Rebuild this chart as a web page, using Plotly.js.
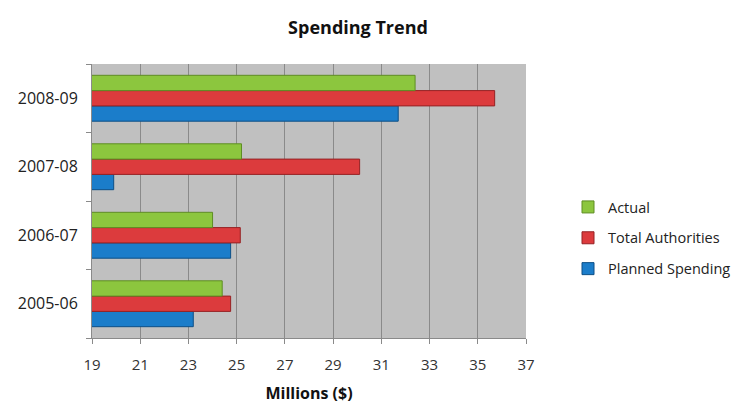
<!DOCTYPE html>
<html>
<head>
<meta charset="utf-8">
<script src="https://cdn.plot.ly/plotly-3.0.1.min.js"></script>
<style>html,body{margin:0;padding:0;background:#fff;}#chart{width:747px;height:412px;}</style>
</head>
<body>
<div id="chart"></div>
<script>
const categories = ["2005-06", "2006-07", "2007-08", "2008-09"];
const planned = [23.2, 24.75, 19.9, 31.7];
const totalAuthorities = [24.75, 25.15, 30.1, 35.7];
const actual = [24.4, 24.0, 25.2, 32.4];
const xTicks = [19, 21, 23, 25, 27, 29, 31, 33, 35, 37];

const font = "Open Sans, Noto Sans, sans-serif";

const traces = [
  {name: "Planned Spending", legendgroup: "p", legendrank: 3, y: categories, x: planned, type: "bar", orientation: "h",
   marker: {color: "#1b7dca", line: {color: "#0d4f86", width: 1}}},
  {name: "Total Authorities", legendgroup: "t", legendrank: 2, y: categories, x: totalAuthorities, type: "bar", orientation: "h",
   marker: {color: "#dc3b3d", line: {color: "#952224", width: 1}}},
  {name: "Actual", legendgroup: "a", legendrank: 1, y: categories, x: actual, type: "bar", orientation: "h",
   marker: {color: "#8cc63e", line: {color: "#5e8d23", width: 1}}}
];

const layout = {
  width: 747, height: 412,
  margin: {l: 92, r: 221, t: 64, b: 74, autoexpand: false},
  paper_bgcolor: "#ffffff",
  plot_bgcolor: "#c0c0c0",
  barmode: "group",
  bargap: 0.33,
  bargroupgap: 0,
  font: {family: font, color: "#333333", size: 15},
  title: {text: "<b>Spending Trend</b>", x: 358 / 747, xanchor: "center", y: 1 - 28 / 412, yanchor: "middle",
          font: {family: font, size: 18, color: "#111111"}},
  xaxis: {
    range: [19, 37], tickvals: xTicks, ticktext: xTicks.map(String),
    showgrid: true, gridcolor: "#8a8a8a", gridwidth: 1,
    showline: true, linecolor: "#8a8a8a", linewidth: 1,
    ticks: "outside", ticklen: 5, tickcolor: "#8a8a8a",
    ticklabelstandoff: 8,
    tickfont: {size: 15, color: "#333333"},
    zeroline: false, fixedrange: true,
    title: {text: "<b>Millions ($)</b>", font: {size: 16, color: "#111111"}, standoff: 14}
  },
  yaxis: {
    type: "category", categoryarray: categories,
    showgrid: false, showline: true, linecolor: "#8a8a8a", linewidth: 1,
    ticks: "outside", tickson: "boundaries", ticklen: 5, tickcolor: "#8a8a8a",
    ticklabelstandoff: 10,
    tickfont: {size: 16, color: "#222222"},
    fixedrange: true
  },
  legend: {
    xref: "container", yref: "container",
    x: 568 / 747, xanchor: "left", y: 1 - 238 / 412, yanchor: "middle",
    traceorder: "grouped",
    font: {size: 14.5, color: "#222222"},
    itemwidth: 30, tracegroupgap: 9,
    bgcolor: "rgba(0,0,0,0)"
  },
  showlegend: true
};

Plotly.newPlot("chart", traces, layout, {displayModeBar: false, staticPlot: true});
</script>
</body>
</html>
